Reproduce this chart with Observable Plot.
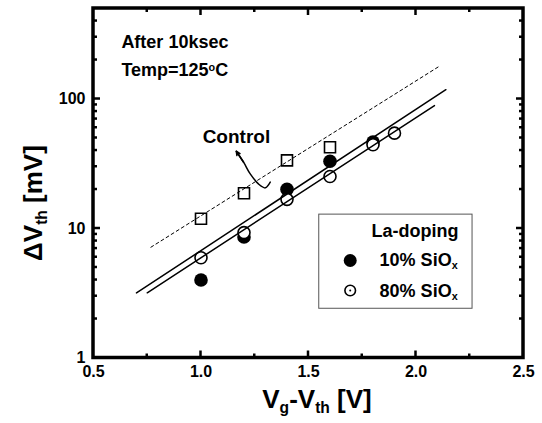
<!DOCTYPE html>
<html>
<head>
<meta charset="utf-8">
<script src="https://cdn.jsdelivr.net/npm/d3@7"></script>
<script src="https://cdn.jsdelivr.net/npm/@observablehq/plot@0.6"></script>
<style>
  html, body { margin: 0; padding: 0; background: #fff; }
</style>
</head>
<body>
<div id="chart"></div>
<script>
// ---- data ----
const controlX = [1.0, 1.2, 1.4, 1.6];
const controlY = [11.9, 18.7, 33.6, 42.4];
const la10X = [1.0, 1.2, 1.4, 1.6, 1.8];
const la10Y = [4.0, 8.6, 20.1, 33.1, 46.5];
const la80X = [1.0, 1.2, 1.4, 1.6, 1.8, 1.9];
const la80Y = [5.95, 9.3, 16.8, 25.2, 44.3, 54.5];
const controlFitX = [0.767, 2.113];
const controlFitY = [7.17, 181];
const fit10X = [0.70, 2.139];
const fit10Y = [3.18, 118];
const fit80X = [0.75, 2.086];
const fit80Y = [3.19, 89];
// curved pointer from the "Control" label (tail hook -> head)
const arrowX = [1.322, 1.299, 1.267, 1.229, 1.198, 1.164];
const arrowY = [22.8, 20.6, 22.1, 26.4, 32.5, 39.5];
const xTickLabels = [0.5, 1.0, 1.5, 2.0, 2.5];
const yTickLabels = [1, 10, 100];
const xMajor = [1.0, 1.5, 2.0];
const xMinor = [0.75, 1.25, 1.75, 2.25];
const yMajor = [10, 100];
const yMinor = [2,3,4,5,6,7,8,9,20,30,40,50,60,70,80,90,200,300,400];

const zip = (xs, ys) => xs.map((x, i) => ({x, y: ys[i]}));
const control = zip(controlX, controlY);
const la10 = zip(la10X, la10Y);
const la80 = zip(la80X, la80Y);
const arrowPts = zip(arrowX, arrowY);

const W0 = 542, H0 = 423;
const mL = 93, mR = 19, mT = 8, mB = 65.5;
const font = "'Liberation Sans', Arial, Helvetica, sans-serif";

const plot = Plot.plot({
  width: W0, height: H0,
  marginLeft: mL, marginRight: mR, marginTop: mT, marginBottom: mB,
  style: {fontFamily: font, fontWeight: "bold", fontSize: "16px", color: "#000", background: "#fff"},
  x: {domain: [0.5, 2.5]},
  y: {type: "log", domain: [1, 500]},
  marks: [
    Plot.axisX({ticks: xTickLabels, tickFormat: d3.format(".1f"), tickSize: 0, tickPadding: 8, label: null}),
    Plot.axisY({ticks: yTickLabels, tickFormat: d => String(d), tickSize: 0, tickPadding: 8, label: null}),
    // data markers
    Plot.dot(control, {x: "x", y: "y", symbol: "square", r: 6.2, stroke: "#000", strokeWidth: 1.6, fill: "white"}),
    Plot.dot(la10, {x: "x", y: "y", r: 6.8, fill: "#000", stroke: "none"}),
    Plot.dot(la80, {x: "x", y: "y", r: 6, fill: "white", stroke: "#000", strokeWidth: 1.6}),
    // fit lines
    Plot.line(zip(controlFitX, controlFitY), {x: "x", y: "y", stroke: "#000", strokeWidth: 1, strokeDasharray: "3,3"}),
    Plot.line(zip(fit10X, fit10Y), {x: "x", y: "y", stroke: "#000", strokeWidth: 1.5}),
    Plot.line(zip(fit80X, fit80Y), {x: "x", y: "y", stroke: "#000", strokeWidth: 1.5}),
    // curved pointer for "Control"
    Plot.line(arrowPts, {x: "x", y: "y", curve: "catmull-rom", stroke: "#000", strokeWidth: 1.5}),
    Plot.arrow([arrowPts[4]], {x1: "x", y1: "y", x2: () => arrowX[5], y2: () => arrowY[5], stroke: "#000", strokeWidth: 1.5, headLength: 9, headAngle: 50}),
    // legend box and symbols
    Plot.rect([{}], {x1: 1.550, x2: 2.263, y1: 2.40, y2: 12.8, fill: "white", stroke: "#555", strokeWidth: 1}),
    Plot.dot([{x: 1.694, y: 5.66}], {x: "x", y: "y", r: 6.5, fill: "#000"}),
    Plot.dot([{x: 1.694, y: 3.32}], {x: "x", y: "y", r: 5.3, fill: "white", stroke: "#000", strokeWidth: 1.6}),
    Plot.dot([{x: 1.694, y: 3.32}], {x: "x", y: "y", r: 1, fill: "#000"})
  ]
});

const sx = plot.scale("x"), sy = plot.scale("y");
const svg = d3.select(plot);
const pL = mL, pR = W0 - mR, pT = mT, pB = H0 - mB;

// enlarge the library's tick labels
svg.selectAll("text").style("font-size", "16px").style("font-weight", "bold").attr("fill", "#000");

// inward ticks on all four sides, positioned through the plot's scales
const tg = svg.append("g").attr("stroke", "#000").attr("stroke-width", 2.5);
for (const [vals, len] of [[xMajor, 7], [xMinor, 4]]) {
  for (const v of vals) {
    const px = sx.apply(v);
    tg.append("line").attr("x1", px).attr("x2", px).attr("y1", pB).attr("y2", pB - len);
    tg.append("line").attr("x1", px).attr("x2", px).attr("y1", pT).attr("y2", pT + len);
  }
}
for (const [vals, len] of [[yMajor, 7], [yMinor, 4]]) {
  for (const v of vals) {
    const py = sy.apply(v);
    tg.append("line").attr("y1", py).attr("y2", py).attr("x1", pL).attr("x2", pL + len);
    tg.append("line").attr("y1", py).attr("y2", py).attr("x1", pR).attr("x2", pR - len);
  }
}
// frame
svg.append("rect").attr("x", pL).attr("y", pT).attr("width", pR - pL).attr("height", pB - pT)
  .attr("fill", "none").attr("stroke", "#000").attr("stroke-width", 3.5);

function rich(x, y, parts, size, opts = {}) {
  const t = svg.append("text")
    .attr("x", x).attr("y", y)
    .attr("font-family", font).attr("font-weight", "bold")
    .attr("font-size", size).attr("fill", "#000")
    .attr("text-anchor", opts.anchor || "start");
  if (opts.transform) t.attr("transform", opts.transform);
  for (const p of parts) {
    const s = typeof p === "string" ? {t: p} : p;
    const ts = t.append("tspan").text(s.t);
    if (s.sub) ts.attr("baseline-shift", "-30%").attr("font-size", size * 0.6);
    if (s.sup) ts.attr("baseline-shift", "45%").attr("font-size", size * 0.6);
  }
  return t;
}

// in-plot annotations (data coordinates)
rich(sx.apply(0.632), sy.apply(245), ["After 10ksec"], 18);
rich(sx.apply(0.632), sy.apply(149), ["Temp=125", {t: "o", sup: true}, "C"], 18);
rich(sx.apply(1.010), sy.apply(45.3), ["Control"], 19);
rich(sx.apply(1.795), sy.apply(8.57), ["La-doping"], 18);
rich(sx.apply(1.833), sy.apply(5.12), ["10% SiO", {t: "x", sub: true}], 18);
rich(sx.apply(1.833), sy.apply(2.95), ["80% SiO", {t: "x", sub: true}], 18);

// axis titles
rich(317, 408, ["V", {t: "g", sub: true}, "-V", {t: "th", sub: true}, " [V]"], 26, {anchor: "middle"});
rich(0, 0, ["\u0394V", {t: "th", sub: true}, " [mV]"], 26, {anchor: "middle", transform: "translate(42,203) rotate(-90)"});

document.getElementById("chart").appendChild(plot);
</script>
</body>
</html>
